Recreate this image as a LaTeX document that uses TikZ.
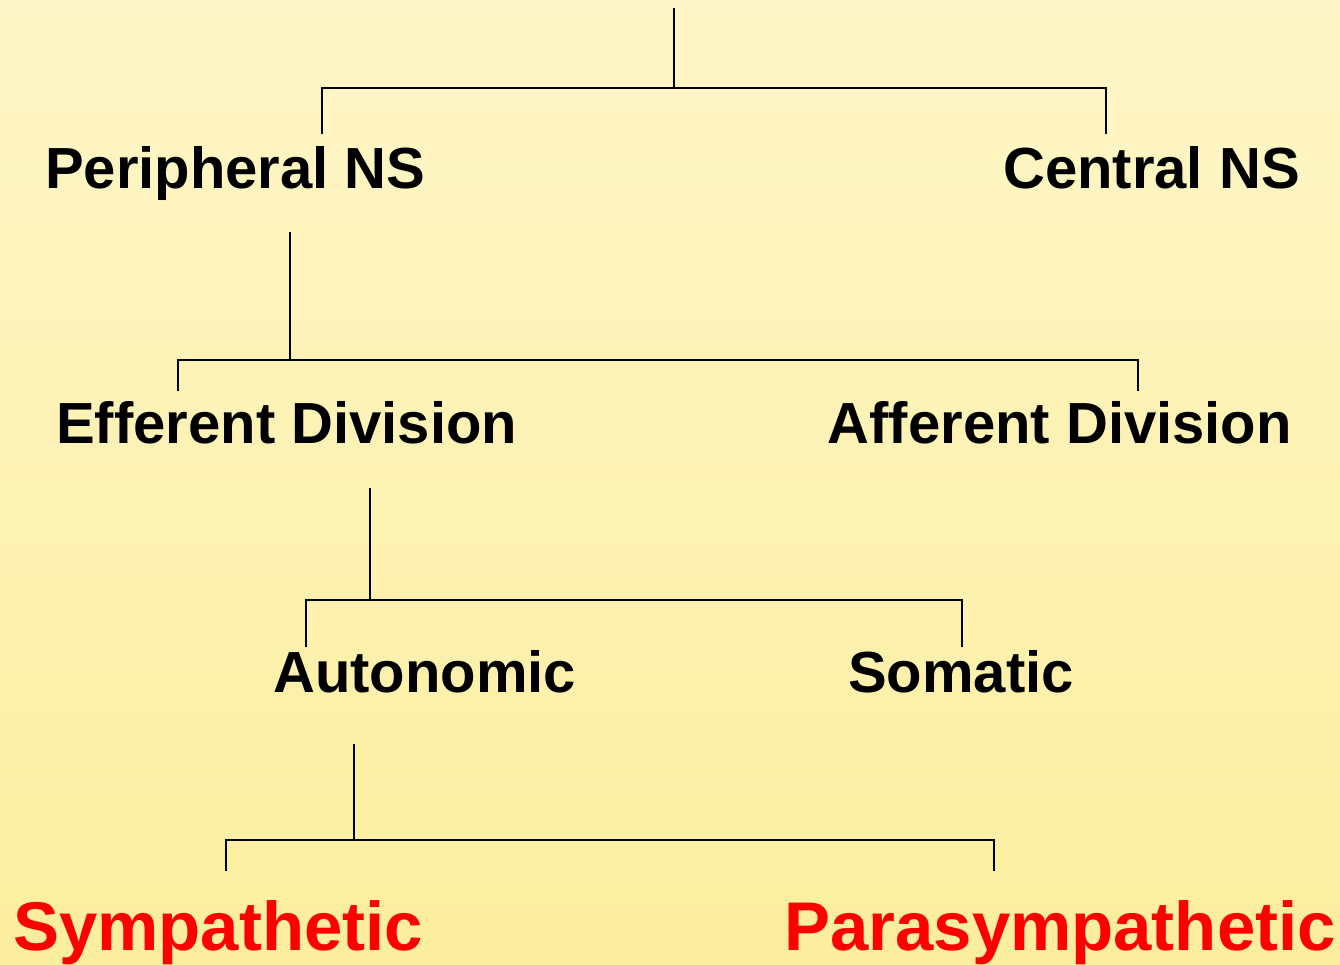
\documentclass[tikz,border=0pt]{standalone}
\usepackage{fontspec}
\setmainfont{Liberation Sans}
\definecolor{bgtop}{HTML}{FEF6C8}
\definecolor{bgbot}{HTML}{FBEE9F}
\definecolor{redlbl}{HTML}{FF0000}
\begin{document}
\begin{tikzpicture}[x=1pt,y=-1pt,
  lbl/.style={inner sep=0pt,font=\fontsize{58.0}{62}\selectfont\bfseries},
  redl/.style={inner sep=0pt,text=redlbl,font=\fontsize{68.9}{72}\selectfont\bfseries},
  conn/.style={line width=2pt,black}]
\shade[top color=bgtop,bottom color=bgbot] (0,0) rectangle (1340,964);
\useasboundingbox (0,0) rectangle (1340,964);
% labels
\node[lbl,anchor=base west] (pns) at (45,188) {Peripheral NS};
\node[lbl,anchor=base east] (cns) at (1300,188) {Central NS};
\node[lbl,anchor=base west] (eff) at (56,443) {Efferent Division};
\node[lbl,anchor=base east] (aff) at (1292,443) {Afferent Division};
\node[lbl,anchor=base west] (aut) at (273,692) {Autonomic};
\node[lbl,anchor=base west] (som) at (848,692) {Somatic};
\node[redl,anchor=base west] (sym) at (13,950) {Sympathetic};
\node[redl,anchor=base east] (par) at (1336,950) {Parasympathetic};
% tree joints
\coordinate (root) at (674,8);
\coordinate (j1) at (674,88);
\coordinate (j1l) at (322,88);
\coordinate (j1r) at (1106,88);
\coordinate (pnsin) at (322,134);
\coordinate (cnsin) at (1106,134);
\coordinate (pnsout) at (290,232);
\coordinate (j2) at (290,360);
\coordinate (j2l) at (178,360);
\coordinate (j2r) at (1138,360);
\coordinate (effin) at (178,391);
\coordinate (affin) at (1138,391);
\coordinate (effout) at (370,488);
\coordinate (j3) at (370,600);
\coordinate (j3l) at (306,600);
\coordinate (j3r) at (962,600);
\coordinate (autin) at (306,647);
\coordinate (somin) at (962,647);
\coordinate (autout) at (354,744);
\coordinate (j4) at (354,840);
\coordinate (j4l) at (226,840);
\coordinate (j4r) at (994,840);
\coordinate (symin) at (226,871);
\coordinate (parin) at (994,871);
% connectors
\draw[conn] (root) -- (j1);
\draw[conn] (pnsin) -- (j1l) -- (j1r) -- (cnsin);
\draw[conn] (pnsout) -- (j2);
\draw[conn] (effin) -- (j2l) -- (j2r) -- (affin);
\draw[conn] (effout) -- (j3);
\draw[conn] (autin) -- (j3l) -- (j3r) -- (somin);
\draw[conn] (autout) -- (j4);
\draw[conn] (symin) -- (j4l) -- (j4r) -- (parin);
\end{tikzpicture}
\end{document}
